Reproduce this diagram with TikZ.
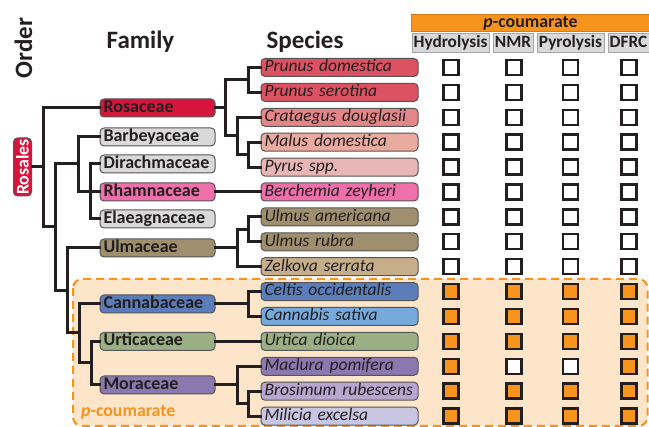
\documentclass[tikz,border=0pt]{standalone}
\usepackage{fontspec}
\setmainfont{Carlito}
\usetikzlibrary{calc}
\definecolor{ink}{HTML}{231F20}
\definecolor{orng}{HTML}{F7941E}
\definecolor{peach}{HTML}{FDE5CA}
\definecolor{boxline}{HTML}{555555}
\definecolor{grayf}{HTML}{D9D9D9}
\definecolor{cRos}{HTML}{D7143C}
\definecolor{cRha}{HTML}{EF6FAA}
\definecolor{cUlm}{HTML}{A08F6E}
\definecolor{cCan}{HTML}{5B7DBA}
\definecolor{cUrt}{HTML}{9BAF85}
\definecolor{cMor}{HTML}{8A78AE}
\definecolor{sA}{HTML}{DC5262}
\definecolor{sB}{HTML}{E38688}
\definecolor{sC}{HTML}{E9AB9F}
\definecolor{sD}{HTML}{E8B6B4}
\definecolor{sE}{HTML}{C6AE8A}
\definecolor{sF}{HTML}{76AADD}
\definecolor{sG}{HTML}{B8A6CE}
\definecolor{sH}{HTML}{C9C6E4}
\tikzset{
  famfont/.style={font=\fontsize{18}{18}\selectfont\bfseries},
  spfont/.style={font=\fontsize{17.5}{18}\selectfont\itshape},
  fam/.style={draw=boxline, line width=1pt, rounded corners=4pt, famfont, text=ink,
     text width=108pt, align=left, inner xsep=3.5pt, inner ysep=0pt,
     minimum height=18pt, text height=11.8pt, text depth=3pt, fill=#1},
  spec/.style={draw=boxline, line width=1pt, rounded corners=4pt, spfont, text=ink,
     text width=150pt, align=left, inner xsep=3.5pt, inner ysep=0pt,
     minimum height=18pt, text height=11.8pt, text depth=3pt, fill=#1},
  tree/.style={draw=ink, line width=3pt, line cap=rect},
  hdr/.style={font=\fontsize{25}{25}\selectfont\bfseries, text=ink, inner sep=0pt},
  colhdr/.style={draw=gray!70, line width=1pt, fill=grayf, font=\fontsize{17.3}{18}\selectfont\bfseries,
     text=ink, inner sep=0pt, minimum height=19pt, text height=11.8pt, text depth=3pt},
  chk/.style={draw=ink, line width=2.4pt, minimum size=15pt, inner sep=0pt, fill=#1},
}
\begin{document}
\begin{tikzpicture}[x=1pt,y=-1pt]
\useasboundingbox (0,0) rectangle (649,427);
% highlighted region
\draw[orng, line width=2pt, dash pattern=on 8pt off 5pt, fill=peach, rounded corners=9pt]
  (73,279) rectangle (647.5,426);
\node[text=orng, font=\fontsize{17.8}{18}\selectfont\bfseries, anchor=west, inner sep=0pt] (plab) at (81,412) {\textit{p}-coumarate};

% headings
\node[hdr, rotate=90] (order) at (23.5,48) {Order};
\node[hdr] (famh) at (140.5,42) {Family};
\node[hdr] (sph) at (305,42) {Species};

% table header
\node[draw=orng!85!black, line width=1pt, fill=orng, minimum width=238pt, minimum height=17pt, inner sep=0pt,
      font=\fontsize{17.8}{18}\selectfont\bfseries, text=ink, text height=11.8pt, text depth=3pt] (pc) at (530.5,23.5) {\textit{p}-coumarate};
\node[colhdr, minimum width=77pt] (hyd) at (450.5,43.5) {Hydrolysis};
\node[colhdr, minimum width=40pt] (nmr) at (513,43.5) {NMR};
\node[colhdr, minimum width=67pt] (pyr) at (570.5,43.5) {Pyrolysis};
\node[colhdr, minimum width=41pt] (dfrc) at (628.5,43.5) {DFRC};

% order node
\node[draw=boxline, line width=1pt, fill=cRos, rounded corners=4pt, rotate=90, minimum width=58pt, minimum height=18pt,
      inner sep=0pt, text=white, font=\fontsize{17.8}{18}\selectfont\bfseries] (ros) at (22.5,167) {Rosales};

% families
\node[fam=cRos] (fRos) at (157.5,108) {Rosaceae};
\node[fam=grayf] (fBar) at (157.5,137) {Barbeyaceae};
\node[fam=grayf] (fDir) at (157.5,164) {Dirachmaceae};
\node[fam=cRha] (fRha) at (157.5,192) {Rhamnaceae};
\node[fam=grayf] (fEla) at (157.5,219) {Elaeagnaceae};
\node[fam=cUlm] (fUlm) at (157.5,248) {Ulmaceae};
\node[fam=cCan] (fCan) at (157.5,304) {Cannabaceae};
\node[fam=cUrt] (fUrt) at (157.5,341.4) {Urticaceae};
\node[fam=cMor] (fMor) at (157.5,385) {Moraceae};

% species
\node[spec=sA] (s1) at (339.5,67.5) {Prunus domestica};
\node[spec=sA] (s2) at (339.5,92.4) {Prunus serotina};
\node[spec=sB] (s3) at (339.5,117.3) {Crataegus douglasii};
\node[spec=sC] (s4) at (339.5,142.2) {Malus domestica};
\node[spec=sD] (s5) at (339.5,167.1) {Pyrus spp.};
\node[spec=cRha] (s6) at (339.5,192) {Berchemia zeyheri};
\node[spec=cUlm] (s7) at (339.5,216.9) {Ulmus americana};
\node[spec=cUlm] (s8) at (339.5,241.8) {Ulmus rubra};
\node[spec=sE] (s9) at (339.5,266.7) {Zelkova serrata};
\node[spec=cCan] (s10) at (339.5,291.6) {Celtis occidentalis};
\node[spec=sF] (s11) at (339.5,316.5) {Cannabis sativa};
\node[spec=cUrt] (s12) at (339.5,341.4) {Urtica dioica};
\node[spec=cMor] (s13) at (339.5,366.3) {Maclura pomifera};
\node[spec=sG] (s14) at (339.5,391.2) {Brosimum rubescens};
\node[spec=sH] (s15) at (339.5,416.1) {Milicia excelsa};

% junction coordinates
\coordinate (jA) at (248,80);
\coordinate (jB) at (248,154.6);
\coordinate (jC) at (237,136);
\coordinate (jD) at (225,108);
\coordinate (jE) at (248,229.4);
\coordinate (jF) at (237,248);
\coordinate (jG) at (248,304);
\coordinate (jH) at (248,403.6);
\coordinate (jI) at (237,385);
\coordinate (jJ) at (91,363);
\coordinate (jK) at (79,333);
\coordinate (jL) at (67,291);
\coordinate (jM) at (90,192);
\coordinate (jN) at (78,164);
\coordinate (jO) at (55,227);
\coordinate (jQ) at (43,167);

% species-level tree
\draw[tree] (s1.west) -| (jA) |- (s2.west);
\draw[tree] (s4.west) -| (jB) |- (s5.west);
\draw[tree] (s3.west) -| (jC) |- (jB);
\draw[tree] (jA) -| (jD) |- (jC);
\draw[tree] (fRos.east) -- (jD);
\draw[tree] (fRha.east) -- (s6.west);
\draw[tree] (s7.west) -| (jE) |- (s8.west);
\draw[tree] (jE) -| (jF) |- (s9.west);
\draw[tree] (fUlm.east) -- (jF);
\draw[tree] (s10.west) -| (jG) |- (s11.west);
\draw[tree] (fCan.east) -- (jG);
\draw[tree] (fUrt.east) -- (s12.west);
\draw[tree] (s14.west) -| (jH) |- (s15.west);
\draw[tree] (s13.west) -| (jI) |- (jH);
\draw[tree] (fMor.east) -- (jI);

% family-level tree
\draw[tree] (fUrt.west) -| (jJ) |- (fMor.west);
\draw[tree] (fCan.west) -| (jK) |- (jJ);
\draw[tree] (fUlm.west) -| (jL) |- (jK);
\draw[tree] (fDir.west) -| (jM) |- (fEla.west);
\draw[tree] (fBar.west) -| (jN) |- (fRha.west);
\draw[tree] (jN) -| (jO) |- (jL);
\draw[tree] (fRos.west) -| (jQ) |- (jO);
\draw[tree] (ros) -- (jQ);

% check boxes
\foreach \r/\yy in {1/67.5,2/92.4,3/117.3,4/142.2,5/167.1,6/192,7/216.9,8/241.8,9/266.7}{
  \foreach \c/\xx in {1/451,2/514,3/570.5,4/629}{
    \node[chk=white] (cb-\r-\c) at (\xx,\yy) {};
  }
}
\foreach \r/\yy in {10/291.6,11/316.5,12/341.4,13/366.3,14/391.2,15/416.1}{
  \foreach \c/\xx in {1/451,2/514,3/570.5,4/629}{
    \node[chk=orng] (cb-\r-\c) at (\xx,\yy) {};
  }
}
\node[chk=white] at (cb-13-2) {};
\node[chk=white] at (cb-13-3) {};
\end{tikzpicture}
\end{document}
